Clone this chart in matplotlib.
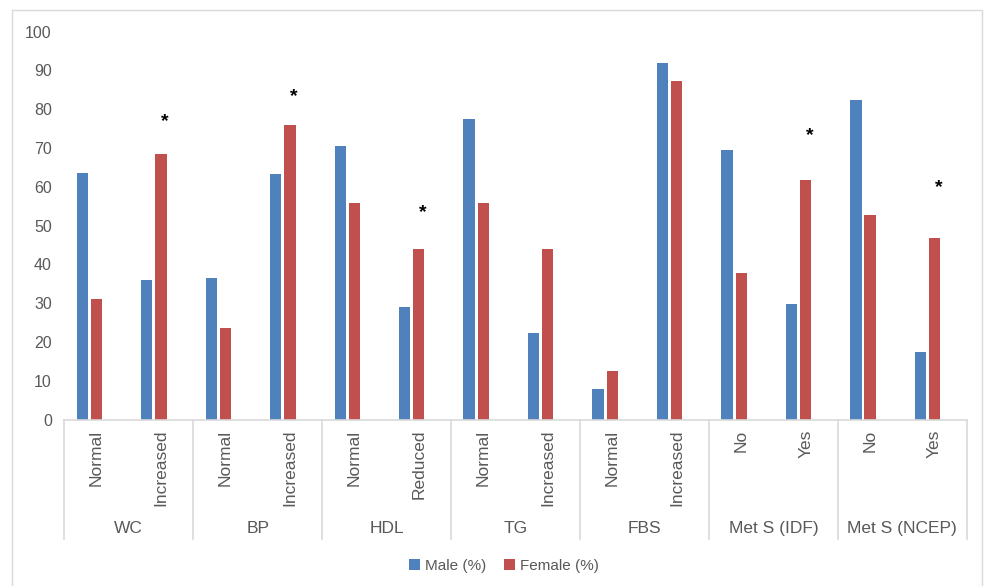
import numpy as np
import matplotlib
matplotlib.use('Agg')
import matplotlib.pyplot as plt
from matplotlib.patches import Rectangle
from matplotlib.transforms import blended_transform_factory

plt.rcParams['font.family'] = ['Liberation Sans', 'DejaVu Sans']

# 数据
groups = ['WC', 'BP', 'HDL', 'TG', 'FBS', 'Met S (IDF)', 'Met S (NCEP)']
sub_labels = ['Normal', 'Increased', 'Normal', 'Increased', 'Normal', 'Reduced',
              'Normal', 'Increased', 'Normal', 'Increased', 'No', 'Yes', 'No', 'Yes']
male = [63.6, 36.0, 36.5, 63.2, 70.6, 29.0, 77.6, 22.2, 7.9, 92.0, 69.6, 29.9, 82.3, 17.5]
female = [31.2, 68.5, 23.7, 75.9, 55.9, 43.9, 55.9, 43.9, 12.4, 87.4, 37.9, 61.8, 52.8, 46.9]
# 显著性星号: (类别序号, 高度)
star_idx = [1, 3, 5, 11, 13]
star_y = [76.9, 83.3, 53.4, 73.1, 59.9]

blue = '#4F81BD'
red = '#C0504D'
grid_c = '#D9D9D9'
text_c = '#595959'

fig = plt.figure(figsize=(9.88, 5.86), dpi=100)
ax = fig.add_axes([0.0651, 0.2841, 0.9134, 0.6618])

x = np.arange(len(sub_labels))
w = 0.175
ax.bar(x - 0.22, male, width=w, color=blue, label='Male (%)')
ax.bar(x, female, width=w, color=red, label='Female (%)')

for i, yy in zip(star_idx, star_y):
    ax.text(x[i] + 0.06, yy, '*', ha='center', va='center', fontsize=14,
            fontweight='bold', color='black')

ax.set_xlim(-0.5, len(sub_labels) - 0.5)
ax.set_ylim(0, 100)
ax.set_yticks(np.arange(0, 101, 10))
ax.tick_params(axis='y', length=0, pad=9, labelsize=11.5, labelcolor=text_c)
ax.set_xticks(x)
ax.set_xticklabels(sub_labels, rotation=90, fontsize=12.5, color=text_c)
ax.tick_params(axis='x', length=0, pad=7.5)

for s in ['left', 'right', 'top']:
    ax.spines[s].set_visible(False)
ax.spines['bottom'].set_color(grid_c)
ax.spines['bottom'].set_linewidth(1.2)

# 分组分隔线和分组标签
trans = blended_transform_factory(ax.transData, ax.transAxes)
for b in np.arange(-0.5, len(sub_labels), 2):
    ax.plot([b, b], [0, -0.308], transform=trans, color=grid_c, lw=1.2,
            clip_on=False)
for k, g in enumerate(groups):
    ax.text(2 * k + 0.5, -0.282, g, transform=trans, ha='center', va='center',
            fontsize=12.5, color=text_c)

fig.legend(loc='center', bbox_to_anchor=(0.51, 0.034), ncol=2, frameon=False,
           fontsize=11, handlelength=0.7, handleheight=0.7, handletextpad=0.3,
           columnspacing=1.2, labelcolor=text_c)

fig.patches.append(Rectangle((12 / 988, -0.01), 970 / 988, 0.993, fill=False,
                             edgecolor=grid_c, lw=1, transform=fig.transFigure,
                             figure=fig))

fig.savefig('out.png', dpi=100)
